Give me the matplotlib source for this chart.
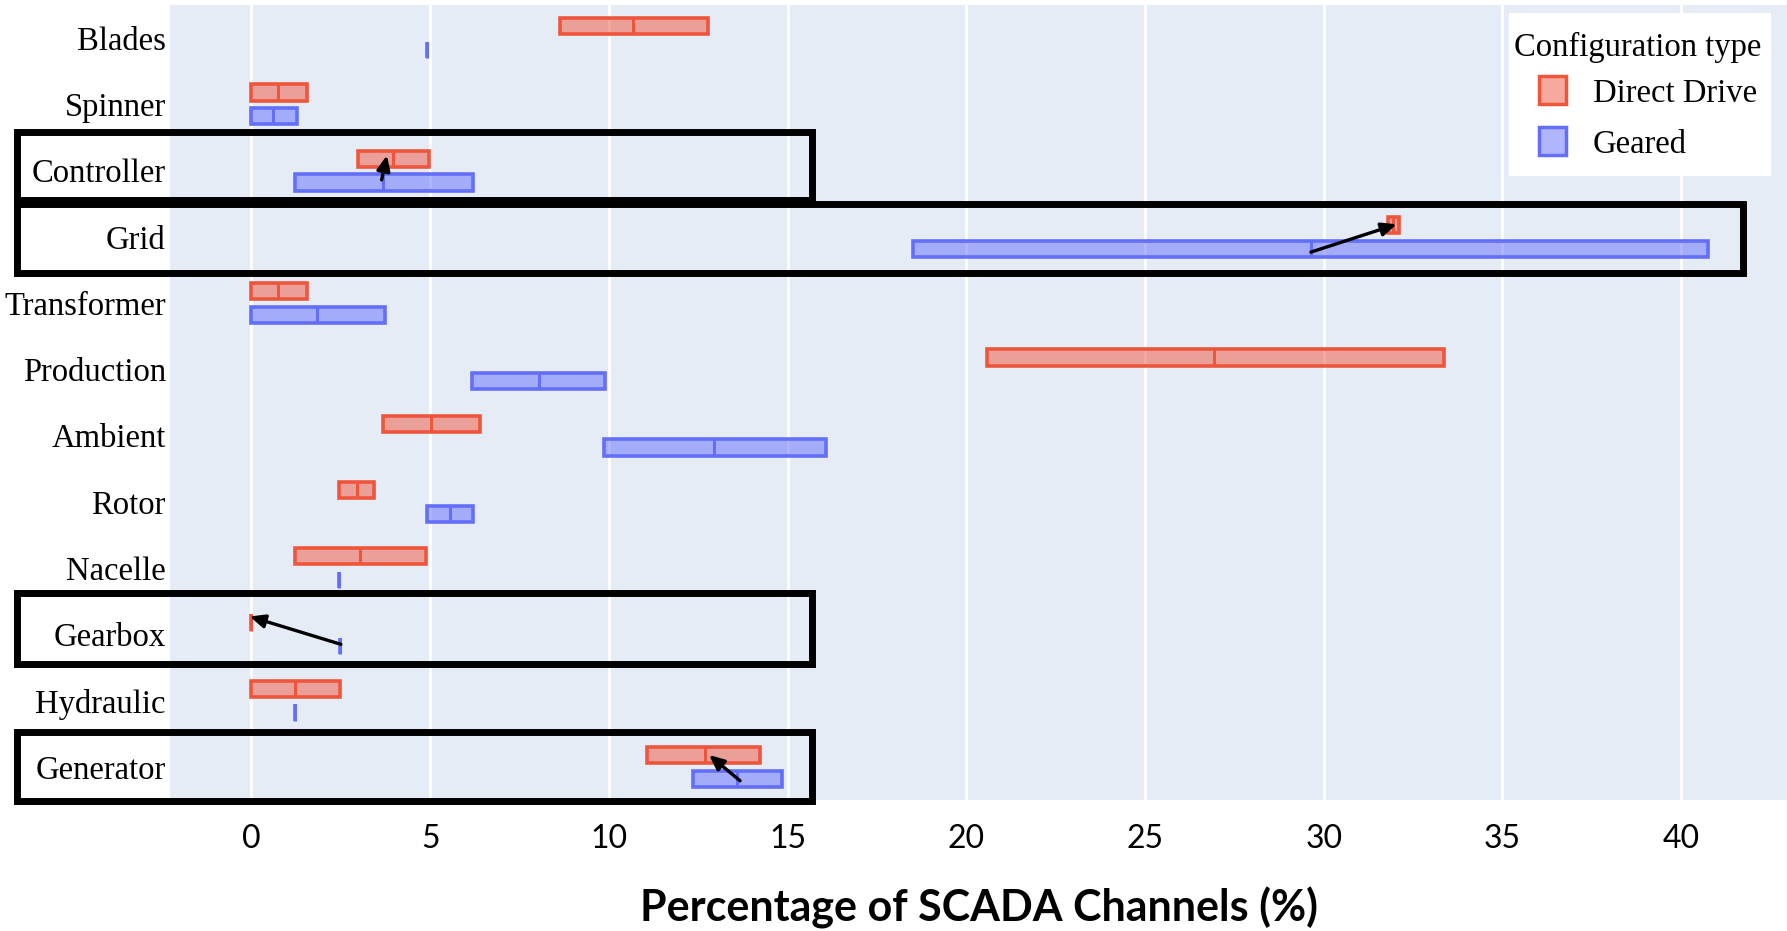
import matplotlib
matplotlib.use("Agg")
import matplotlib.pyplot as plt
from matplotlib.patches import Rectangle

categories = ["Blades", "Spinner", "Controller", "Grid", "Transformer", "Production",
              "Ambient", "Rotor", "Nacelle", "Gearbox", "Hydraulic", "Generator"]

# Direct Drive boxes (q1, median, q3) in %
dd_q1  = [8.63, 0.0, 2.98, 31.80, 0.0, 20.58, 3.67, 2.45, 1.21, 0.0, 0.0, 11.07]
dd_med = [10.68, 0.75, 3.95, 31.95, 0.75, 26.94, 5.03, 2.95, 3.04, 0.0, 1.22, 12.68]
dd_q3  = [12.76, 1.54, 4.96, 32.10, 1.54, 33.36, 6.38, 3.42, 4.88, 0.0, 2.47, 14.24]

# Geared boxes (q1, median, q3) in %
ge_q1  = [4.91, 0.0, 1.21, 18.51, 0.0, 6.17, 9.86, 4.90, 2.46, 2.47, 1.22, 12.35]
ge_med = [4.91, 0.61, 3.69, 29.64, 1.84, 8.03, 12.95, 5.56, 2.46, 2.47, 1.22, 13.59]
ge_q3  = [4.91, 1.27, 6.21, 40.75, 3.73, 9.89, 16.07, 6.21, 2.46, 2.47, 1.22, 14.83]

xticks = [0, 5, 10, 15, 20, 25, 30, 35, 40]
series_names = ["Direct Drive", "Geared"]
legend_title = "Configuration type"

W, H = 1787, 931
fig = plt.figure(figsize=(W / 100, H / 100), dpi=100)
fig.patch.set_facecolor("white")
ax = fig.add_axes([170 / W, 1 - 800 / H, 1 - 170 / W, (800 - 5) / H])
ax.set_facecolor("#E5ECF6")

RED = "#EF553B"
BLUE = "#636EFA"
off = 0.18
bw = 0.245

def stats(q1, med, q3):
    return [dict(q1=a, med=m, q3=b, whislo=a, whishi=b, fliers=[]) for a, m, b in zip(q1, med, q3)]

pos = list(range(len(categories)))
for q1, med, q3, color, sgn in [(dd_q1, dd_med, dd_q3, RED, -1), (ge_q1, ge_med, ge_q3, BLUE, 1)]:
    bp = ax.bxp(stats(q1, med, q3), positions=[p + sgn * off for p in pos], widths=bw,
                vert=False, patch_artist=True, showcaps=False, showfliers=False,
                boxprops=dict(facecolor=matplotlib.colors.to_rgba(color, 0.5), edgecolor=color, linewidth=2.6),
                medianprops=dict(color=color, linewidth=2.2),
                whiskerprops=dict(color=color, linewidth=0))
    for b in bp["boxes"]:
        b.set_zorder(3)

ax.set_xlim(-2.28, 42.96)
ax.set_ylim(11.5, -0.5)
ax.set_yticks(pos)
ax.set_yticklabels(categories, family="Liberation Serif", fontsize=23.5)
ax.set_xticks(xticks)
ax.set_xticklabels([str(t) for t in xticks], family="Lato", fontsize=23)
ax.tick_params(axis="both", length=0)
ax.tick_params(axis="y", pad=3)
ax.tick_params(axis="x", pad=17)
ax.grid(axis="x", color="white", linewidth=2)
ax.set_axisbelow(True)
for s in ax.spines.values():
    s.set_visible(False)

ax.set_xlabel("Percentage of SCADA Channels (%)", family="Lato", fontweight="bold",
              fontsize=31, labelpad=24)

# legend (drawn in figure pixel coordinates)
def fx(px):
    return px / W

def fy(py):
    return 1 - py / H

fig.add_artist(Rectangle((fx(1509), fy(176)), (1771 - 1509) / W, (176 - 13) / H,
                         transform=fig.transFigure, facecolor="white", edgecolor="none", zorder=8))
fig.text(fx(1514), fy(47), legend_title, family="Liberation Serif", fontsize=23.5,
         ha="left", va="center", zorder=9)
for name, color, cy in zip(series_names, [RED, BLUE], [90, 141]):
    fig.add_artist(Rectangle((fx(1539), fy(cy + 14)), 27 / W, 28 / H, transform=fig.transFigure,
                             facecolor=matplotlib.colors.to_rgba(color, 0.5), edgecolor=color,
                             linewidth=2.5, zorder=9))
    fig.text(fx(1593), fy(cy + 4), name, family="Liberation Serif", fontsize=23.5,
             ha="left", va="center", zorder=9)

# annotation arrows
arrows = [((3.64, 2.14), (3.79, 1.77)),
          ((29.64, 3.23), (32.04, 2.81)),
          ((2.50, 9.15), (-0.05, 8.73)),
          ((13.67, 11.21), (12.80, 10.82))]
for tail, head in arrows:
    ax.annotate("", xy=head, xytext=tail,
                arrowprops=dict(arrowstyle="-|>,head_length=0.9,head_width=0.4", color="black",
                                lw=2.4, shrinkA=0, shrinkB=0), zorder=6)

# highlight rectangles (pixel coords of the figure)
rects = [(17, 132, 812, 200), (17, 204, 1743, 273), (17, 593, 812, 664), (17, 732, 812, 801)]
for x0, y0, x1, y1 in rects:
    fig.add_artist(Rectangle((x0 / W, 1 - y1 / H), (x1 - x0) / W, (y1 - y0) / H,
                             transform=fig.transFigure, fill=False, edgecolor="black",
                             linewidth=5, zorder=10))

fig.savefig("out.png", dpi=100)
